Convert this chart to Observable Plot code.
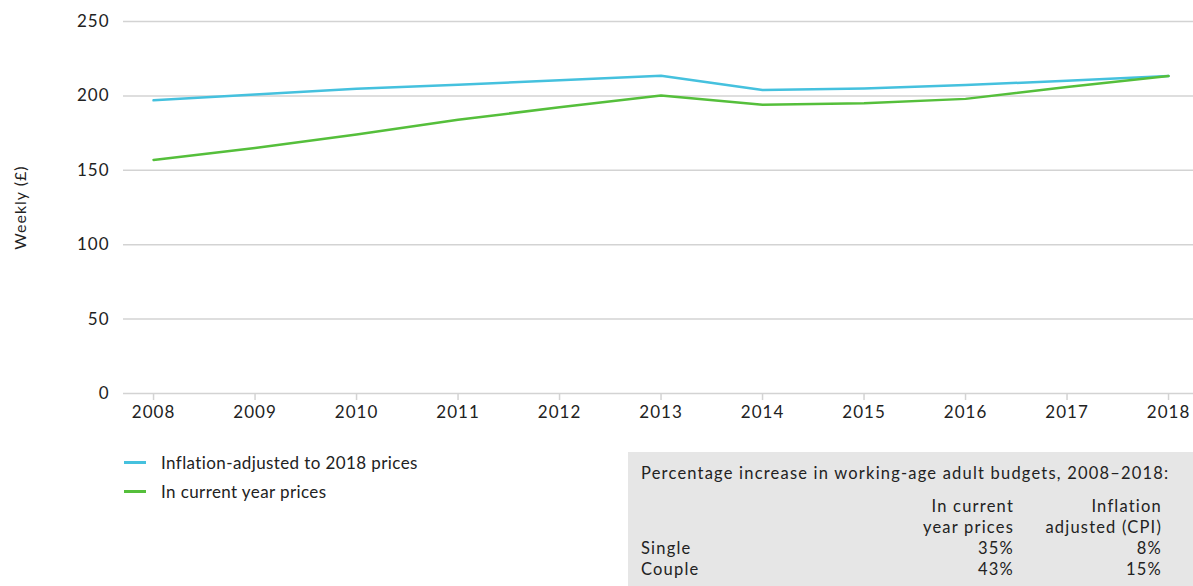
<!DOCTYPE html>
<html>
<head>
<meta charset="utf-8">
<script src="https://cdn.jsdelivr.net/npm/d3@7"></script>
<script src="https://cdn.jsdelivr.net/npm/@observablehq/plot@0.6"></script>
<style>
  html, body { margin: 0; padding: 0; background: #fff; }
  body { font-family: Lato, "Noto Sans", sans-serif; color: #222; }
  #wrap { position: relative; width: 1193px; height: 586px; overflow: hidden; }
  #chart { position: absolute; left: 0; top: 0; }
  #chart text { letter-spacing: 1px; }
  #legend { position: absolute; left: 124px; top: 448px; font-size: 17px; letter-spacing: 0.4px; }
  .leg { display: flex; align-items: center; height: 29px; }
  .sw { width: 22px; height: 3px; margin-right: 15px; }
  #box { position: absolute; left: 628px; top: 452px; width: 565px; height: 134px; background: #e6e6e6; font-size: 16.5px; letter-spacing: 1.2px; }
  #box .ttl { position: absolute; left: 13px; top: 11px; white-space: nowrap; }
  #box table { position: absolute; left: 13px; top: 44px; border-collapse: collapse; }
  #box td { padding: 0; line-height: 21px; white-space: nowrap; }
  #box td.num { text-align: right; }
</style>
</head>
<body>
<div id="wrap">
  <div id="chart"></div>
  <div id="legend"></div>
  <div id="box"><div class="ttl"></div><table></table></div>
</div>
<script>
const years = [2008, 2009, 2010, 2011, 2012, 2013, 2014, 2015, 2016, 2017, 2018];
const inflationAdjusted = [197, 201, 204.8, 207.5, 210.5, 213.5, 204, 205, 207.3, 210.2, 213.3];
const currentPrices = [157, 165, 174, 184, 192.3, 200.3, 194, 195, 198, 206, 213.3];
const seriesNames = ["Inflation-adjusted to 2018 prices", "In current year prices"];
const seriesColors = ["#45c1de", "#55bf3b"];
const yTicks = [0, 50, 100, 150, 200, 250];

const tableTitle = "Percentage increase in working-age adult budgets, 2008\u20132018:";
const tableHeaders = [["In current", "year prices"], ["Inflation", "adjusted (CPI)"]];
const tableRows = ["Single", "Couple"];
const tableCurrent = ["35%", "43%"];
const tableCPI = ["8%", "15%"];

const data = [];
years.forEach((y, i) => {
  data.push({year: y, value: inflationAdjusted[i], series: seriesNames[0]});
  data.push({year: y, value: currentPrices[i], series: seriesNames[1]});
});

const chart = Plot.plot({
  width: 1193,
  height: 432,
  marginLeft: 123,
  marginRight: 0,
  marginTop: 21,
  marginBottom: 39,
  style: {fontFamily: "Lato, 'Noto Sans', sans-serif", fontSize: "17px", color: "#222", background: "transparent"},
  x: {domain: [2007.704, 2018.246], label: null},
  y: {domain: [0, 250], label: null},
  color: {domain: seriesNames, range: seriesColors},
  marks: [
    Plot.ruleY(yTicks, {stroke: "#d3d3d3", strokeWidth: 1.5}),
    Plot.axisY({ticks: yTicks, tickSize: 0, tickPadding: 14, fontSize: 17, label: null}),
    Plot.axisX({ticks: years, tickFormat: d => String(d), tickSize: 7, tickPadding: 5, stroke: "#d3d3d3", strokeWidth: 1.5, fontSize: 17, label: null}),
    Plot.text(["Weekly (\u00a3)"], {frameAnchor: "left", textAnchor: "middle", dx: -103, rotate: -90, fontSize: 16}),
    Plot.line(data, {x: "year", y: "value", stroke: "series", strokeWidth: 2.5, z: "series"})
  ]
});
document.getElementById("chart").appendChild(chart);
chart.querySelectorAll("text").forEach(t => t.setAttribute("fill", "#222"));

const legend = document.getElementById("legend");
seriesNames.forEach((n, i) => {
  const row = document.createElement("div");
  row.className = "leg";
  row.innerHTML = `<span class="sw" style="background:${seriesColors[i]}"></span><span>${n}</span>`;
  legend.appendChild(row);
});

const box = document.getElementById("box");
box.querySelector(".ttl").textContent = tableTitle;
const table = box.querySelector("table");
let html = "";
for (let r = 0; r < 2; r++) {
  html += `<tr><td style="width:230px"></td><td class="num" style="width:143px">${tableHeaders[0][r]}</td><td class="num" style="width:148px">${tableHeaders[1][r]}</td></tr>`;
}
tableRows.forEach((name, i) => {
  html += `<tr><td>${name}</td><td class="num">${tableCurrent[i]}</td><td class="num">${tableCPI[i]}</td></tr>`;
});
table.innerHTML = html;
</script>
</body>
</html>
